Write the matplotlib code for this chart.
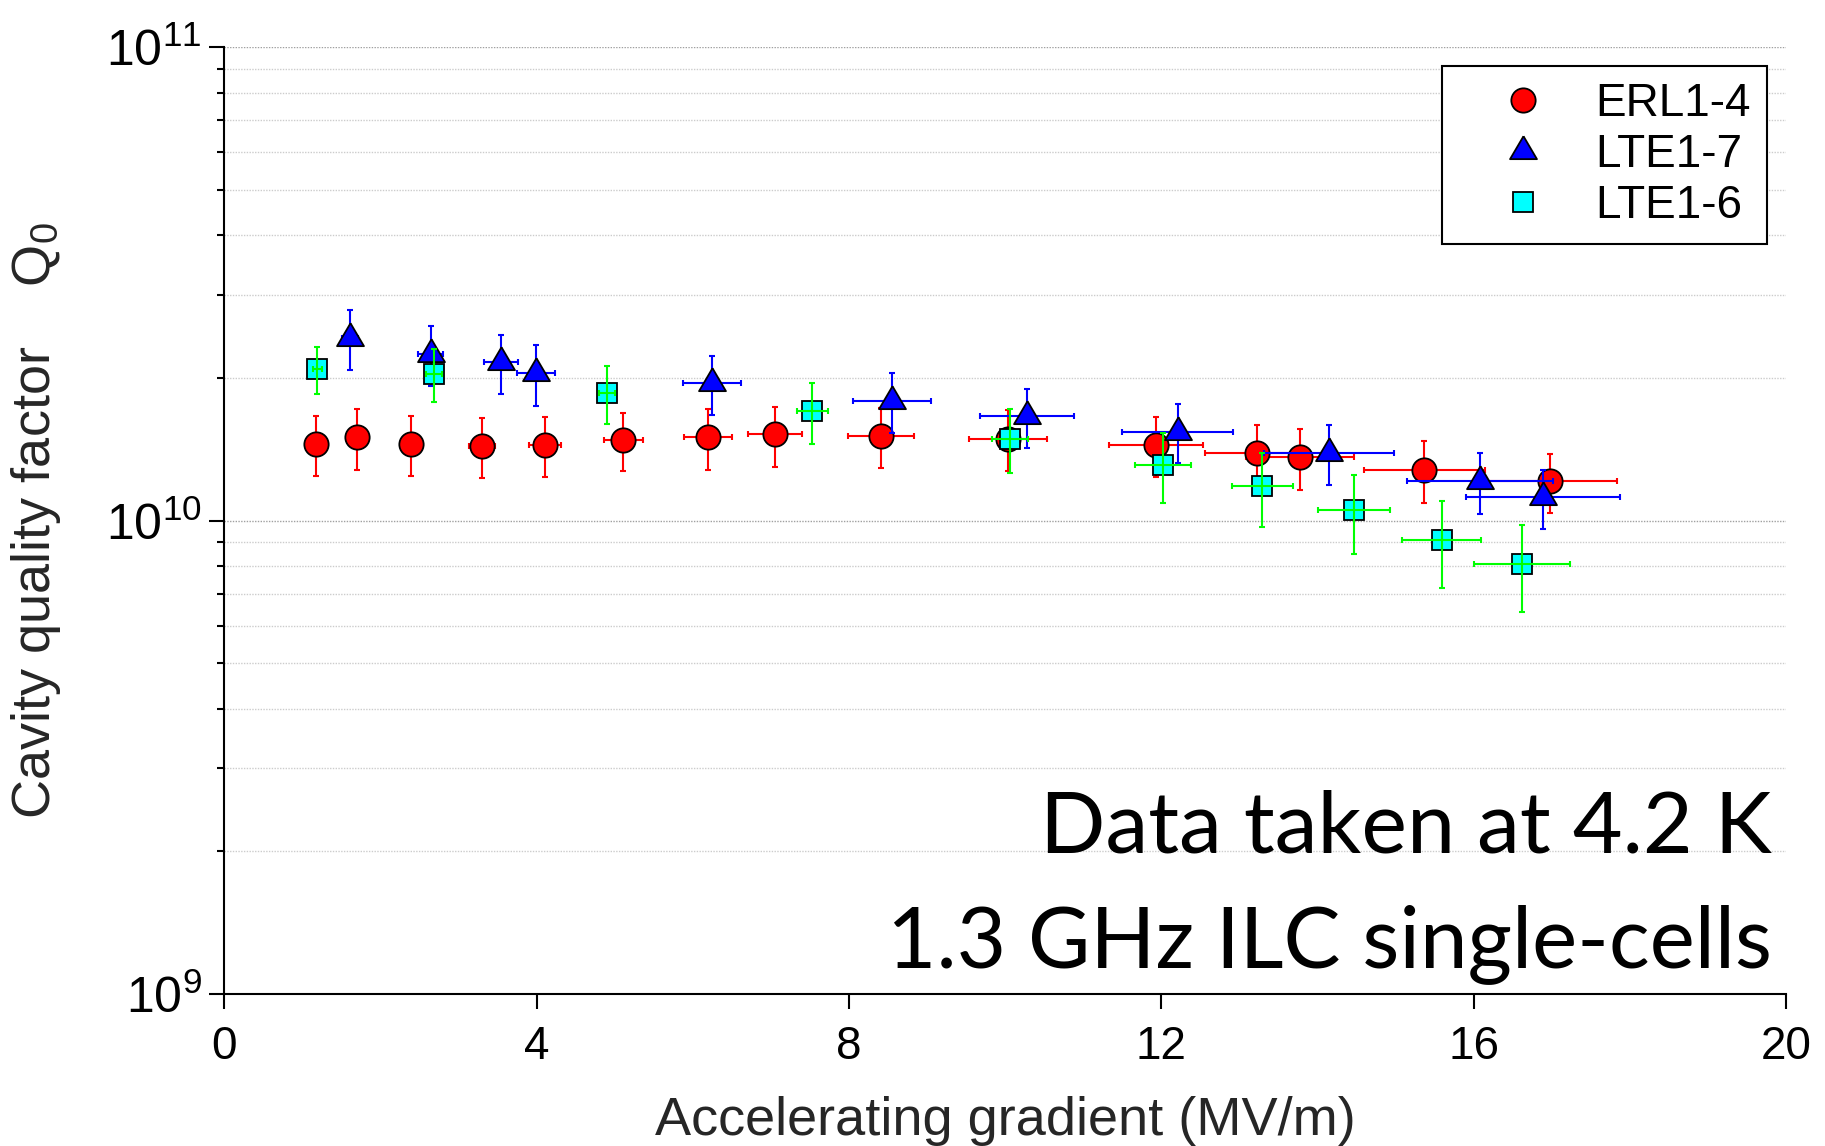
import numpy as np
import matplotlib
matplotlib.use("Agg")
import matplotlib.pyplot as plt
from matplotlib.lines import Line2D
from matplotlib.ticker import LogLocator, NullFormatter, FixedLocator

plt.rcParams['font.family'] = ['Liberation Sans', 'DejaVu Sans']
plt.rcParams['mathtext.fontset'] = 'custom'
plt.rcParams['mathtext.rm'] = 'Liberation Sans'
plt.rcParams['mathtext.it'] = 'Liberation Sans:italic'

# ERL1-4 (red circles)
erl_e = [1.17, 1.70, 2.39, 3.30, 4.11, 5.11, 6.19, 7.05, 8.41, 10.04, 11.93, 13.22, 13.78, 15.37, 16.98]
erl_q = [1.45e10, 1.50e10, 1.45e10, 1.44e10, 1.445e10, 1.48e10, 1.50e10, 1.52e10, 1.51e10, 1.49e10,
         1.445e10, 1.39e10, 1.36e10, 1.28e10, 1.21e10]
erl_de = [0.06, 0.085, 0.12, 0.165, 0.205, 0.255, 0.31, 0.35, 0.42, 0.50, 0.60, 0.66, 0.69, 0.77, 0.85]
erl_dq = [0.21e10, 0.22e10, 0.21e10, 0.21e10, 0.21e10, 0.21e10, 0.22e10, 0.22e10, 0.22e10, 0.22e10,
          0.21e10, 0.20e10, 0.20e10, 0.19e10, 0.175e10]

# LTE1-7 (blue triangles)
lte7_e = [1.61, 2.64, 3.54, 3.99, 6.24, 8.55, 10.28, 12.21, 14.15, 16.08, 16.89]
lte7_q = [2.43e10, 2.25e10, 2.16e10, 2.045e10, 1.95e10, 1.79e10, 1.66e10, 1.54e10, 1.39e10, 1.21e10, 1.12e10]
lte7_de = [0.10, 0.16, 0.22, 0.24, 0.37, 0.50, 0.60, 0.71, 0.83, 0.94, 0.99]
lte7_dq = [0.35e10, 0.33e10, 0.31e10, 0.30e10, 0.28e10, 0.26e10, 0.24e10, 0.22e10, 0.20e10, 0.18e10, 0.16e10]

# LTE1-6 (cyan squares)
lte6_e = [1.19, 2.68, 4.90, 7.53, 10.06, 12.02, 13.29, 14.47, 15.59, 16.62]
lte6_q = [2.09e10, 2.04e10, 1.86e10, 1.70e10, 1.49e10, 1.31e10, 1.18e10, 1.05e10, 9.1e9, 8.1e9]
lte6_de = [0.06, 0.10, 0.10, 0.20, 0.23, 0.36, 0.39, 0.46, 0.51, 0.61]
lte6_dq = [0.24e10, 0.26e10, 0.26e10, 0.25e10, 0.23e10, 0.22e10, 0.21e10, 0.20e10, 0.19e10, 0.17e10]

x_ticks = [0, 4, 8, 12, 16, 20]

# triangle centred on its centroid (as the original plotting program does)
tri = [(0, 1), (-0.88, -0.5), (0.88, -0.5), (0, 1)]

fig = plt.figure(figsize=(18.25, 11.46), dpi=100)
ax = fig.add_axes([0.123, 0.1326, 0.8556, 0.8264])
ax.set_yscale("log")

eb = dict(fmt="none", elinewidth=1.5, capsize=2.5, capthick=1.5)
ax.errorbar(erl_e, erl_q, xerr=erl_de, yerr=erl_dq, ecolor="#ff0000", zorder=3, **eb)
ax.plot(erl_e, erl_q, "o", ms=17.5, mfc="#ff0000", mec="black", mew=1.3, ls="none", zorder=4)
ax.errorbar(lte7_e, lte7_q, xerr=lte7_de, yerr=lte7_dq, ecolor="#0000ff", zorder=5, **eb)
ax.plot(lte7_e, lte7_q, marker=tri, ms=22, mfc="#0000ff", mec="black", mew=1.3, ls="none", zorder=6)
ax.plot(lte6_e, lte6_q, "s", ms=14, mfc="#00ffff", mec="black", mew=1.3, ls="none", zorder=7)
ax.errorbar(lte6_e, lte6_q, xerr=lte6_de, yerr=lte6_dq, ecolor="#00ff00", zorder=8, **eb)

ax.set_xlim(0, 20)
ax.set_ylim(1e9, 1e11)
ax.xaxis.set_major_locator(FixedLocator(x_ticks))
ax.yaxis.set_major_locator(LogLocator(base=10, numticks=10))
ax.yaxis.set_minor_locator(LogLocator(base=10, subs=np.arange(2, 10), numticks=20))
ax.yaxis.set_minor_formatter(NullFormatter())

ax.grid(axis="y", which="major", color="#a0a0a0", lw=1.0, ls=(0, (1, 1)), zorder=0)
ax.grid(axis="y", which="minor", color="#cccccc", lw=1.0, ls=(0, (1, 1)), zorder=0)
ax.set_axisbelow(True)

for s in ["top", "right"]:
    ax.spines[s].set_visible(False)
for s in ["left", "bottom"]:
    ax.spines[s].set_linewidth(1.5)

ax.tick_params(axis="both", which="major", direction="out", length=10.5, width=1.5)
ax.tick_params(axis="x", pad=12, labelsize=33)
ax.tick_params(axis="y", pad=6, labelsize=36)
ax.tick_params(axis="y", which="minor", direction="out", length=5, width=1.5)

ax.set_xlabel("Accelerating gradient (MV/m)", fontsize=39, color="#262626", va="baseline")
ax.xaxis.set_label_coords(0.5, -0.149)
ax.set_ylabel(r"Cavity quality factor    $\mathrm{Q}_{\mathit{0}}$", fontsize=39,
              color="#262626", va="baseline")
ax.yaxis.set_label_coords(-0.112, 0.5)

handles = [
    Line2D([], [], marker="o", ms=17.5, mfc="#ff0000", mec="black", mew=1.3, ls="none"),
    Line2D([], [], marker=tri, ms=22, mfc="#0000ff", mec="black", mew=1.3, ls="none"),
    Line2D([], [], marker="s", ms=14, mfc="#00ffff", mec="black", mew=1.3, ls="none"),
]
leg = ax.legend(handles, ["ERL1-4", "LTE1-7", "LTE1-6"], loc="upper right",
                bbox_to_anchor=(0.9878, 0.980), borderaxespad=0, fontsize=33,
                fancybox=False, framealpha=1, edgecolor="black",
                handlelength=2.84, handletextpad=0.15, borderpad=0.35, labelspacing=0.15)
leg.get_frame().set_linewidth(1.5)

ax.text(0.9911, 0.1499, "Data taken at 4.2 K", transform=ax.transAxes, ha="right",
        va="baseline", fontsize=62, family=["Lato", "DejaVu Sans"])
ax.text(0.9911, 0.0285, "1.3 GHz ILC single-cells", transform=ax.transAxes, ha="right",
        va="baseline", fontsize=61.5, family=["Lato", "DejaVu Sans"])

fig.savefig("out.png", dpi=100)
